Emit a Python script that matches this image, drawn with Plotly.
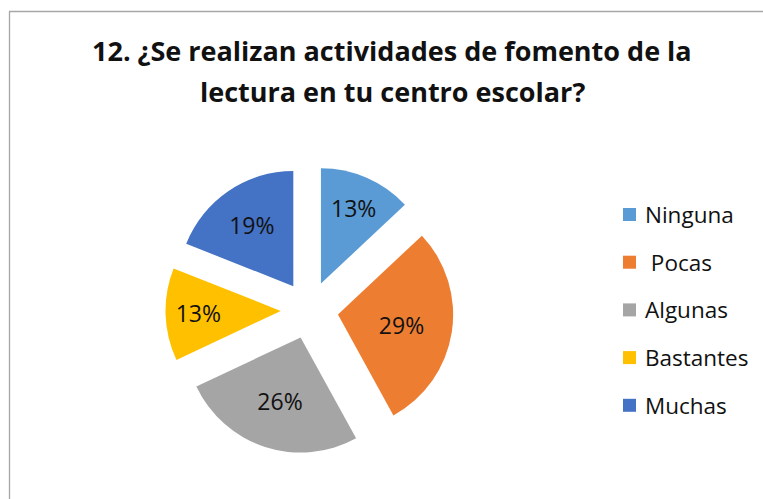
import plotly.graph_objects as go

labels = ["Ninguna", " Pocas", "Algunas", "Bastantes", "Muchas"]
values = [13, 29, 26, 13, 19]
colors = ["#5B9BD5", "#ED7D31", "#A5A5A5", "#FFC000", "#4472C4"]
title_lines = ["12. ¿Se realizan actividades de fomento de la", "lectura en tu centro escolar?"]

W, H = 763, 499
def px(x):
    return x / W
def py(y):
    return 1 - y / H

FONT = "Open Sans"

fig = go.Figure()
fig.add_trace(go.Pie(
    labels=labels, values=values, sort=False, direction="clockwise", rotation=0,
    marker=dict(colors=colors, line=dict(width=0)),
    pull=[0.25] * len(values),
    texttemplate="%{percent:.0%}", textposition="inside",
    insidetextorientation="horizontal",
    insidetextfont=dict(family=FONT, size=23, color="#111111"),
    domain=dict(x=[px(165.5), px(453.5)], y=[py(454), py(166)]),
    showlegend=False, hoverinfo="label+percent",
))

shapes = []
annotations = []
# frame
shapes.append(dict(type="line", xref="paper", yref="paper", x0=px(9), x1=1.01, y0=py(11.5), y1=py(11.5),
                   line=dict(color="#A6A6A6", width=1.3)))
shapes.append(dict(type="line", xref="paper", yref="paper", x0=px(9.5), x1=px(9.5), y0=py(11.5), y1=-0.01,
                   line=dict(color="#A6A6A6", width=1.3)))

# title
for i, t in enumerate(title_lines):
    annotations.append(dict(text="<b>" + t + "</b>", xref="paper", yref="paper",
                            x=px(392), y=py(51 + 41 * i), xanchor="center", yanchor="middle",
                            showarrow=False, font=dict(family=FONT, size=27, color="#111111")))

# legend
for i, (lab, col) in enumerate(zip(labels, colors)):
    yc = 214.5 + 47.7 * i
    shapes.append(dict(type="rect", xref="paper", yref="paper", x0=px(623), x1=px(636),
                       y0=py(yc + 6.5), y1=py(yc - 6.5), fillcolor=col, line=dict(width=0)))
    annotations.append(dict(text=lab.replace(" ", "\u00a0"), xref="paper", yref="paper",
                            x=px(643), y=py(yc), xanchor="left", yanchor="middle",
                            showarrow=False, font=dict(family=FONT, size=22.5, color="#111111")))

fig.update_layout(
    width=W, height=H, margin=dict(l=0, r=0, t=0, b=0),
    paper_bgcolor="white", plot_bgcolor="white",
    shapes=shapes, annotations=annotations, showlegend=False,
)
fig.write_html("out.html", config={"displayModeBar": False},
               post_script="document.body.style.margin='0px';")
